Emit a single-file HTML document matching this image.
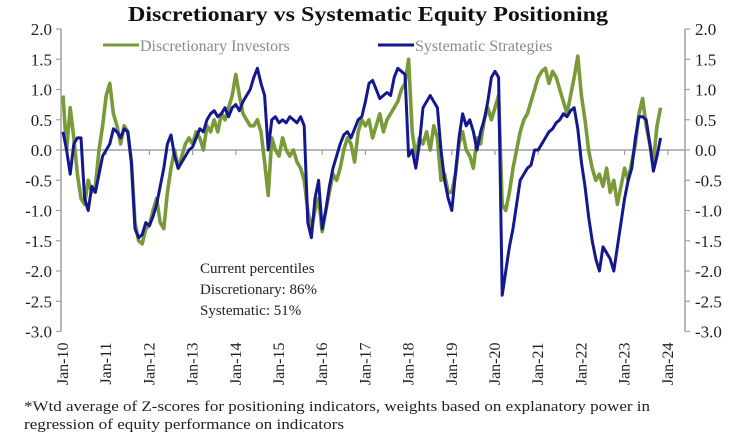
<!DOCTYPE html>
<html><head><meta charset="utf-8"><style>
body{margin:0;background:#fff;}
svg{display:block;font-family:"Liberation Serif",serif;}
</style></head><body>
<svg id="chart" width="745" height="439" viewBox="0 0 745 439">
<text x="368" y="21" text-anchor="middle" font-size="21" font-weight="bold" fill="#111" textLength="480" lengthAdjust="spacingAndGlyphs">Discretionary  vs Systematic Equity Positioning</text>
<g>
<line x1="103" y1="45" x2="139" y2="45" stroke="#7a9a3a" stroke-width="3"/>
<text x="140" y="51" font-size="16" fill="#8a8a8a">Discretionary Investors</text>
<line x1="378" y1="45" x2="414" y2="45" stroke="#14188f" stroke-width="3"/>
<text x="415" y="51" font-size="16" fill="#8a8a8a">Systematic Strategies</text>
</g>
<g id="axes"></g>
<g id="series"></g>
<g font-size="15" fill="#222">
<text x="200" y="273">Current percentiles</text>
<text x="200" y="294">Discretionary: 86%</text>
<text x="200" y="315">Systematic: 51%</text>
</g>
<g font-size="15" fill="#222">
<text x="24" y="411" textLength="626" lengthAdjust="spacingAndGlyphs">*Wtd average of Z-scores for positioning indicators, weights based on explanatory power in</text>
<text x="24" y="429" textLength="320" lengthAdjust="spacingAndGlyphs">regression of equity performance on indicators</text>
</g>
</svg>
<script>
const yTicks=[2.0,1.5,1.0,0.5,0.0,-0.5,-1.0,-1.5,-2.0,-2.5,-3.0];
const xYears=['Jan-10','Jan-11','Jan-12','Jan-13','Jan-14','Jan-15','Jan-16','Jan-17','Jan-18','Jan-19','Jan-20','Jan-21','Jan-22','Jan-23','Jan-24'];
const systematic=[
0.3,0.0,-0.4,0.1,0.2,0.2,-0.8,-1.0,-0.6,-0.7,-0.4,-0.1,
0.0,0.1,0.35,0.3,0.2,0.35,0.3,-0.2,-1.3,-1.45,-1.4,-1.2,
-1.25,-1.1,-0.9,-0.6,-0.3,0.1,0.25,-0.1,-0.3,-0.2,-0.1,0.0,
0.05,0.2,0.35,0.3,0.5,0.6,0.65,0.55,0.6,0.7,0.55,0.7,
0.75,0.65,0.8,0.9,1.0,1.2,1.35,1.1,0.9,0.0,0.5,0.55,
0.45,0.5,0.45,0.55,0.5,0.45,0.55,0.4,-1.2,-1.45,-0.8,-0.5,
-1.3,-1.0,-0.6,-0.3,-0.1,0.1,0.25,0.3,0.2,0.35,0.5,0.55,
0.8,1.1,1.15,1.0,0.85,0.9,0.95,0.9,1.2,1.35,1.3,1.25,
-0.1,0.0,-0.3,0.1,0.7,0.8,0.9,0.8,0.7,0.0,-0.5,-0.8,
-1.0,-0.4,0.2,0.6,0.4,0.5,0.3,0.0,0.3,0.5,0.8,1.2,
1.3,1.2,-2.4,-2.0,-1.6,-1.3,-0.9,-0.5,-0.4,-0.3,-0.25,0.0,
0.0,0.1,0.2,0.3,0.35,0.45,0.5,0.6,0.55,0.65,0.7,0.35,
-0.2,-0.6,-1.1,-1.5,-1.8,-2.0,-1.6,-1.7,-1.8,-2.0,-1.6,-1.2,
-0.8,-0.5,-0.3,0.2,0.55,0.55,0.5,0.1,-0.35,-0.1,0.2];
const discretionary=[
0.9,0.0,0.7,0.2,-0.4,-0.8,-0.9,-0.5,-0.7,-0.6,0.0,0.4,
0.9,1.1,0.6,0.4,0.1,0.4,0.3,-0.2,-1.2,-1.5,-1.55,-1.3,
-1.25,-1.0,-0.8,-1.2,-1.3,-0.7,-0.3,0.0,-0.3,-0.1,0.1,0.2,
0.1,0.3,0.2,0.0,0.4,0.3,0.5,0.3,0.6,0.5,0.7,0.9,
1.25,0.9,0.6,0.5,0.4,0.4,0.5,0.3,-0.2,-0.75,0.2,0.0,
-0.1,0.2,0.0,-0.1,0.0,-0.2,-0.3,-0.5,-1.0,-1.3,-1.0,-0.8,
-1.35,-1.0,-0.7,-0.4,-0.5,-0.3,0.0,0.2,0.1,-0.2,0.3,0.5,
0.4,0.5,0.2,0.4,0.6,0.3,0.5,0.6,0.7,0.8,1.0,1.1,
1.5,0.3,-0.1,0.2,0.1,0.3,0.0,0.4,0.2,-0.5,-0.4,-0.7,
-0.7,-0.4,0.1,0.3,0.0,-0.1,-0.3,0.2,0.1,0.5,0.7,0.5,
0.7,0.9,-0.9,-1.0,-0.7,-0.3,0.0,0.3,0.5,0.6,0.8,1.0,
1.2,1.3,1.35,1.1,1.3,1.2,1.0,0.8,0.6,0.9,1.2,1.55,
0.9,0.5,0.0,-0.3,-0.5,-0.4,-0.6,-0.3,-0.7,-0.5,-0.9,-0.6,
-0.3,-0.5,-0.2,0.1,0.6,0.85,0.4,0.1,-0.2,0.4,0.7];
const NS='http://www.w3.org/2000/svg';
const X0=63,PXM=43.2/12,L=61,R=685;
function xs(m){return X0+m*PXM;}
function ys(v){return 150-v*60.5;}
function mk(t,a,p){const e=document.createElementNS(NS,t);for(const k in a)e.setAttribute(k,a[k]);p.appendChild(e);return e;}
const ax=document.getElementById('axes');
const axc='#a0a0a0';
let e=mk('line',{x1:L,y1:ys(2),x2:L,y2:ys(-3),stroke:axc,'stroke-width':1.5},ax);


e=mk('line',{x1:R,y1:ys(2),x2:R,y2:ys(-3),stroke:axc,'stroke-width':1.5},ax);


e=mk('line',{x1:L,y1:ys(0),x2:R,y2:ys(0),stroke:axc,'stroke-width':1.5},ax);


yTicks.forEach(v=>{
  mk('line',{x1:L-5,y1:ys(v),x2:L,y2:ys(v),stroke:axc,'stroke-width':1.2},ax);
  mk('line',{x1:R,y1:ys(v),x2:R+5,y2:ys(v),stroke:axc,'stroke-width':1.2},ax);
  let t=mk('text',{x:L-9,y:ys(v)+6,'text-anchor':'end','font-size':17,fill:'#222'},ax);t.textContent=v.toFixed(1);
  
  
  t=mk('text',{x:R+10,y:ys(v)+6,'text-anchor':'start','font-size':17,fill:'#222'},ax);t.textContent=v.toFixed(1);
  
  
});
xYears.forEach((lab,i)=>{
  const x=xs(i*12);
  if(i>0) mk('line',{x1:x,y1:ys(0),x2:x,y2:ys(0)+5,stroke:axc,'stroke-width':1.2},ax);
  const t=mk('text',{x:0,y:0,'text-anchor':'end','font-size':16,fill:'#222',transform:`translate(${x+5},${ys(-3)+11}) rotate(-90)`},ax);
  t.textContent=lab;
  
  
});
const sg=document.getElementById('series');
function line(arr,col,w,name){
  const d=arr.map((v,i)=>(i?'L':'M')+xs(i).toFixed(1)+','+ys(v).toFixed(1)).join(' ');
  const p=mk('path',{d:d,fill:'none',stroke:col,'stroke-width':w,'stroke-linejoin':'round'},sg);
  
  
}
line(discretionary,'#7a9a3a',3.6,'discretionary-line');
line(systematic,'#14188f',3,'systematic-line');
</script>
</body></html>
